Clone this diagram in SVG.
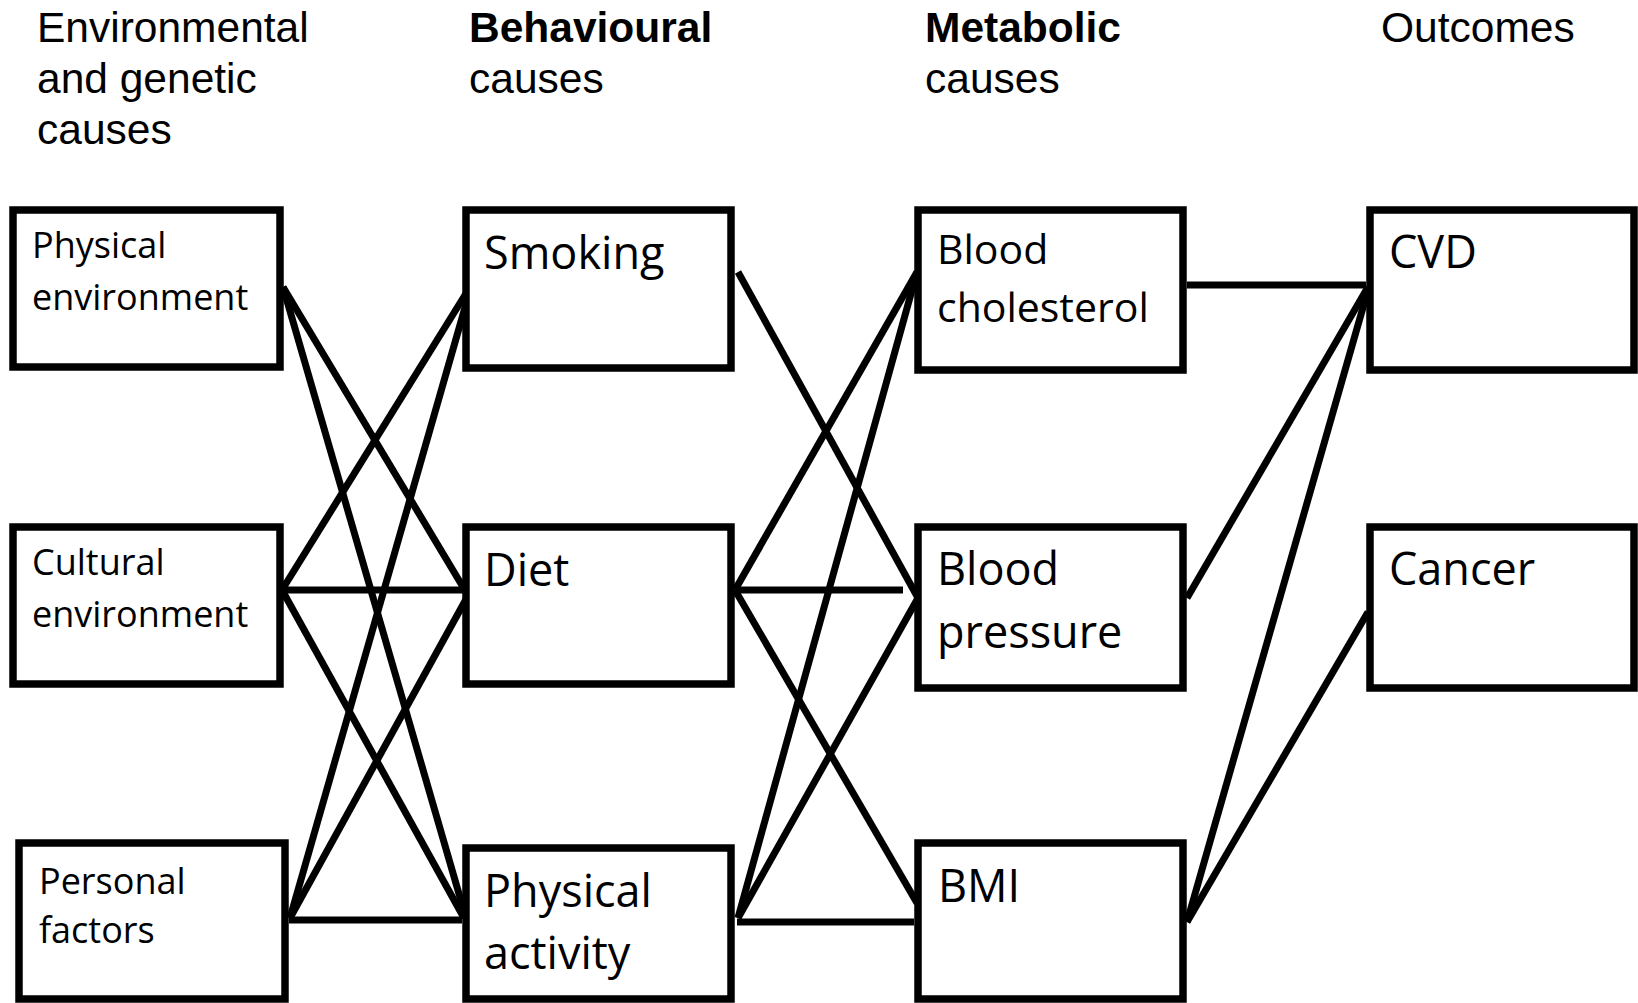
<svg xmlns="http://www.w3.org/2000/svg" width="1638" height="1003" viewBox="0 0 1638 1003">
<style>
.box{fill:#fff;stroke:#000;stroke-width:7.5}
.t{font-family:"Open Sans","Noto Sans",sans-serif;fill:#000}
.s36{font-size:36px}
.s41{font-size:41px}
.s45{font-size:45px}
.h{font-family:"Liberation Sans",Arial,sans-serif;font-size:42.5px;fill:#000}
.b{font-weight:bold}
#connectors line{stroke:#000;stroke-width:7}
</style>
<rect width="1638" height="1003" fill="#fff"/>
<g id="headers">
<text class="h" x="37" y="42">Environmental</text>
<text class="h" x="37" y="93">and genetic</text>
<text class="h" x="37" y="144">causes</text>
<text class="h b" x="469" y="42">Behavioural</text>
<text class="h" x="469" y="93">causes</text>
<text class="h b" x="925" y="42">Metabolic</text>
<text class="h" x="925" y="93">causes</text>
<text class="h" x="1381" y="42">Outcomes</text>
</g>
<g id="connectors">
<line x1="283" y1="287" x2="466" y2="592"/>
<line x1="283" y1="287" x2="466" y2="918"/>
<line x1="282" y1="590" x2="470" y2="287"/>
<line x1="282" y1="590" x2="470" y2="590"/>
<line x1="282" y1="590" x2="464" y2="918"/>
<line x1="290" y1="918" x2="470" y2="290"/>
<line x1="290" y1="918" x2="470" y2="592"/>
<line x1="289" y1="920" x2="462" y2="920"/>
<line x1="738" y1="272" x2="918" y2="598"/>
<line x1="735" y1="590" x2="917" y2="272"/>
<line x1="735" y1="590" x2="903" y2="590"/>
<line x1="735" y1="590" x2="917" y2="903"/>
<line x1="738" y1="918" x2="917" y2="272"/>
<line x1="738" y1="918" x2="918" y2="598"/>
<line x1="737" y1="922" x2="914" y2="922"/>
<line x1="1187" y1="285" x2="1366" y2="285"/>
<line x1="1187" y1="598" x2="1368" y2="287"/>
<line x1="1187" y1="922" x2="1368" y2="290"/>
<line x1="1187" y1="922" x2="1368" y2="612"/>
</g>
<g id="physical-environment">
<rect class="box" x="13" y="210" width="267" height="157"/>
<text class="t s36" x="32" y="258">Physical</text>
<text class="t s36" x="32" y="310">environment</text>
</g>
<g id="cultural-environment">
<rect class="box" x="13" y="527" width="267" height="157"/>
<text class="t s36" x="32" y="575">Cultural</text>
<text class="t s36" x="32" y="627">environment</text>
</g>
<g id="personal-factors">
<rect class="box" x="19" y="843" width="266" height="156"/>
<text class="t s36" x="39" y="894">Personal</text>
<text class="t s36" x="39" y="943">factors</text>
</g>
<g id="smoking">
<rect class="box" x="466" y="210" width="265" height="158"/>
<text class="t s45" x="484" y="269">Smoking</text>
</g>
<g id="diet">
<rect class="box" x="466" y="527" width="265" height="157"/>
<text class="t s45" x="484" y="586">Diet</text>
</g>
<g id="physical-activity">
<rect class="box" x="466" y="848" width="265" height="151"/>
<text class="t s45" x="484" y="907">Physical</text>
<text class="t s45" x="484" y="969">activity</text>
</g>
<g id="blood-cholesterol">
<rect class="box" x="918" y="210" width="265" height="160"/>
<text class="t s41" x="937" y="264">Blood</text>
<text class="t s41" x="937" y="322">cholesterol</text>
</g>
<g id="blood-pressure">
<rect class="box" x="918" y="527" width="265" height="161"/>
<text class="t s45" x="937" y="585">Blood</text>
<text class="t s45" x="937" y="648">pressure</text>
</g>
<g id="bmi">
<rect class="box" x="918" y="843" width="265" height="156"/>
<text class="t s45" x="938" y="902">BMI</text>
</g>
<g id="cvd">
<rect class="box" x="1370" y="210" width="264" height="160"/>
<text class="t s45" x="1389" y="268">CVD</text>
</g>
<g id="cancer">
<rect class="box" x="1370" y="527" width="264" height="161"/>
<text class="t s45" x="1389" y="585">Cancer</text>
</g>
</svg>
